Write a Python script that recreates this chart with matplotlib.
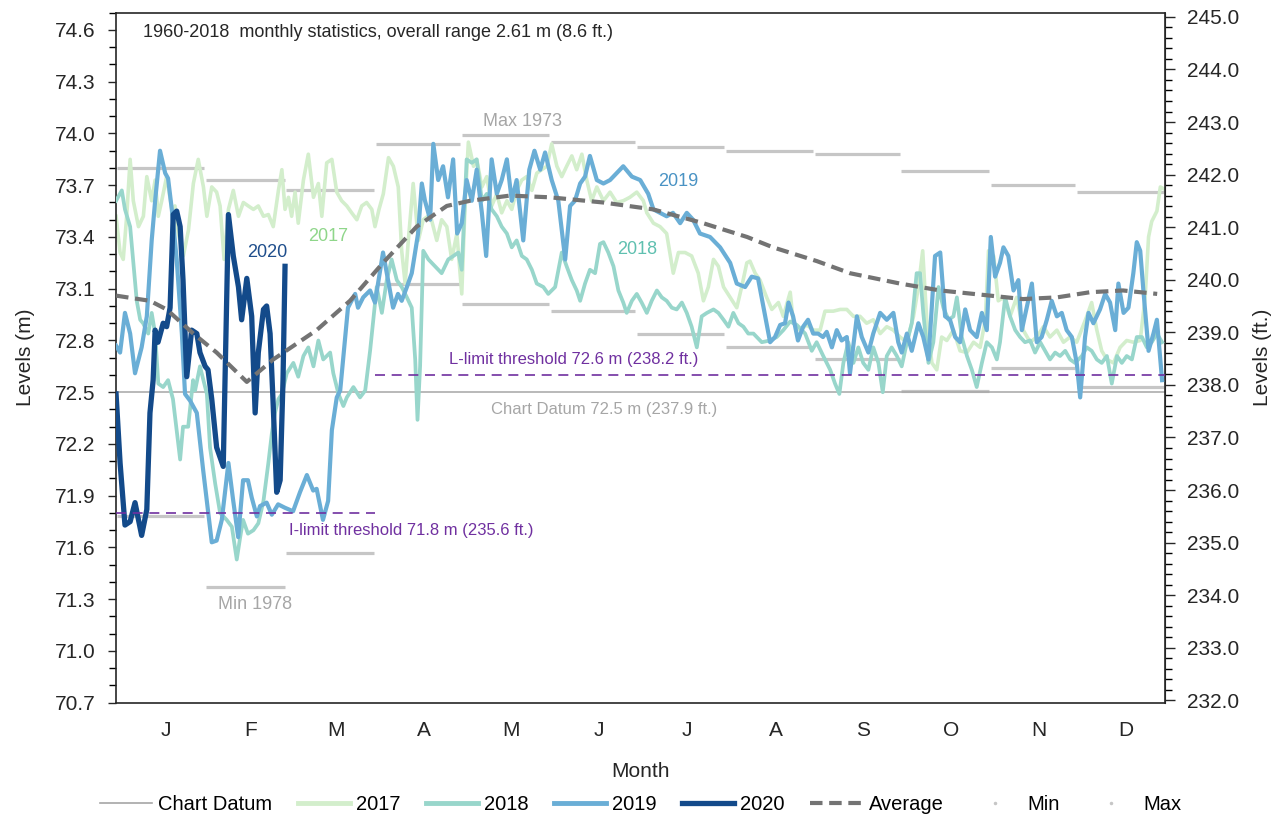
import matplotlib
matplotlib.use("Agg")
import matplotlib.pyplot as plt
from matplotlib.lines import Line2D
from matplotlib.ticker import FixedLocator, MultipleLocator, FormatStrFormatter
import numpy as np

plt.rcParams['font.family'] = ['Liberation Sans', 'DejaVu Sans']

# month layout (day of year) and labels
month_starts = [0, 31, 59, 90, 120, 151, 181, 212, 243, 273, 304, 334, 365]
month_labels = ["J", "F", "M", "A", "M", "J", "J", "A", "S", "O", "N", "D"]

# 1960-2018 monthly statistics (m)
month_max = [73.80, 73.73, 73.67, 73.94, 73.99, 73.95, 73.92, 73.90, 73.88, 73.78, 73.70, 73.66]
month_min = [71.78, 71.37, 71.57, 73.13, 73.01, 72.97, 72.84, 72.76, 72.69, 72.51, 72.64, 72.53]

chart_datum = 72.5
l_limit = 72.6
i_limit = 71.8

# right axis ticks (ft.)
ft_ticks = [232, 233, 234, 235, 236, 237, 238, 239, 240, 241, 242, 243, 244, 245]

# average level
avg_day = [0, 11.8, 17.6, 26.9, 35.0, 45.5, 54.7, 69.8, 81.4, 92.9,
           104.6, 115.1, 123.2, 137.1, 151.0, 169.5, 186.9, 204.3, 219.6, 228.6,
           243.9, 255.4, 272.8, 286.8, 304.2, 315.6, 327.5, 339.0, 350.4, 362.3]
avg_lvl = [73.06, 73.03, 72.98, 72.84, 72.73, 72.56, 72.69, 72.86, 73.03, 73.25,
           73.46, 73.58, 73.61, 73.64, 73.63, 73.60, 73.56, 73.48, 73.40, 73.34,
           73.26, 73.19, 73.13, 73.09, 73.06, 73.04, 73.05, 73.08, 73.09, 73.07]

# 2017 daily levels (sampled)
day_2017 = [0, 1.4, 2.5, 3.7, 4.9, 6.0, 7.8, 9.5, 10.7, 12.4,
            13.6, 14.7, 15.9, 17.6, 19.4, 20.5, 21.7, 23.4, 25.2, 26.9,
            28.6, 30.4, 31.6, 33.3, 35.0, 36.2, 37.6, 39.1, 40.8, 42.6,
            44.3, 46.0, 47.8, 49.5, 51.3, 53.0, 54.7, 56.5, 57.7, 58.8,
            60.0, 61.1, 62.3, 63.4, 65.2, 66.9, 68.7, 70.4, 71.6, 73.3,
            75.1, 76.8, 78.5, 80.3, 82.0, 83.8, 85.5, 87.2, 89.0, 90.1,
            91.5, 93.0, 94.8, 96.5, 98.2, 99.4, 100.6, 101.7, 103.4, 105.2,
            106.9, 109.3, 111.6, 113.3, 115.1, 116.8, 118.6, 120.3, 121.5, 122.6,
            124.4, 125.5, 127.3, 129.0, 130.7, 132.5, 134.2, 136.0, 137.7, 139.4,
            141.2, 142.9, 144.7, 146.4, 148.1, 149.9, 151.6, 153.4, 155.1, 156.8,
            158.6, 160.3, 162.1, 163.8, 165.5, 167.3, 169.6, 171.9, 174.2, 176.5,
            178.8, 181.2, 183.5, 184.7, 187.0, 189.3, 191.6, 193.9, 195.7, 198.0,
            200.3, 202.6, 204.4, 206.1, 207.9, 209.6, 211.4, 213.7, 216.0, 217.7,
            219.5, 220.6, 222.4, 224.1, 226.4, 228.2, 230.5, 232.2, 234.6, 235.7,
            238.0, 240.4, 242.7, 245.0, 246.7, 249.6, 252.0, 254.3, 256.6, 258.9,
            261.2, 263.5, 265.9, 268.2, 270.5, 272.8, 275.2, 277.5, 279.2, 280.7,
            282.1, 283.9, 285.6, 287.3, 289.1, 291.4, 293.7, 296.1, 298.4, 300.7,
            302.5, 303.6, 305.4, 307.0, 308.8, 311.1, 313.4, 315.7, 318.1, 320.4,
            322.7, 325.0, 327.4, 329.7, 332.0, 334.3, 337.8, 339.5, 341.3, 343.0,
            344.8, 347.1, 349.4, 351.7, 354.0, 356.4, 358.1, 359.3, 360.4, 362.2,
            363.4, 364.5]
lvl_2017 = [73.52, 73.31, 73.27, 73.52, 73.85, 73.61, 73.46, 73.52, 73.75, 73.61,
            73.73, 73.52, 73.61, 73.75, 73.56, 73.58, 73.42, 73.29, 73.44, 73.71,
            73.85, 73.69, 73.52, 73.69, 73.66, 73.58, 73.27, 73.56, 73.67, 73.52,
            73.60, 73.58, 73.56, 73.58, 73.52, 73.53, 73.46, 73.67, 73.79, 73.56,
            73.63, 73.52, 73.66, 73.48, 73.73, 73.88, 73.63, 73.71, 73.52, 73.83,
            73.85, 73.66, 73.61, 73.58, 73.54, 73.50, 73.58, 73.60, 73.56, 73.46,
            73.56, 73.65, 73.86, 73.81, 73.69, 73.32, 73.13, 73.38, 73.71, 73.38,
            73.50, 73.53, 73.38, 73.50, 73.46, 73.27, 73.42, 73.07, 73.61, 73.95,
            73.81, 73.85, 73.69, 73.75, 73.58, 73.65, 73.54, 73.61, 73.56, 73.67,
            73.73, 73.75, 73.67, 73.77, 73.79, 73.81, 73.94, 73.81, 73.75, 73.81,
            73.87, 73.79, 73.88, 73.73, 73.61, 73.69, 73.61, 73.66, 73.60, 73.61,
            73.63, 73.66, 73.61, 73.54, 73.48, 73.46, 73.42, 73.19, 73.31, 73.31,
            73.29, 73.19, 73.03, 73.11, 73.27, 73.23, 73.11, 73.05, 72.99, 73.11,
            73.25, 73.26, 73.19, 73.15, 73.05, 72.98, 73.02, 72.94, 73.08, 72.90,
            72.86, 72.89, 72.86, 72.86, 72.97, 72.97, 72.98, 72.98, 72.94, 72.94,
            72.90, 72.92, 72.84, 72.88, 72.86, 72.82, 72.79, 72.94, 73.11, 73.32,
            72.92, 72.67, 72.63, 72.82, 72.80, 72.86, 72.74, 72.73, 72.79, 72.76,
            72.92, 73.32, 73.29, 73.03, 73.05, 72.94, 73.05, 72.86, 72.79, 72.82,
            72.88, 72.82, 72.86, 72.79, 72.82, 72.79, 72.94, 73.02, 72.86, 72.74,
            72.69, 72.67, 72.76, 72.80, 72.79, 72.80, 73.05, 73.40, 73.49, 73.55,
            73.69, 73.68]

# 2018
day_2018 = [0, 2.0, 3.1, 4.9, 5.9, 7.2, 8.4, 9.4, 11.2, 12.4,
            13.6, 14.7, 16.4, 18.1, 19.8, 22.3, 23.3, 25.1, 26.8, 27.5,
            29.2, 31.6, 32.7, 34.5, 36.2, 38.5, 40.3, 42.0, 43.2, 44.2,
            45.9, 47.8, 49.5, 51.3, 53.0, 54.2, 55.3, 56.5, 57.7, 59.4,
            61.7, 63.4, 65.2, 66.9, 68.7, 70.4, 72.1, 74.5, 75.6, 77.4,
            79.1, 80.3, 82.6, 84.9, 86.7, 88.4, 90.7, 92.5, 94.2, 95.9,
            97.7, 99.4, 101.2, 102.9, 104.1, 104.9, 105.8, 106.9, 108.7, 111.0,
            113.3, 115.6, 117.4, 119.1, 120.3, 122.0, 123.8, 125.5, 127.3, 129.0,
            130.7, 132.5, 134.2, 136.0, 137.7, 139.4, 141.2, 142.9, 144.7, 146.4,
            148.7, 150.4, 152.8, 155.1, 156.8, 158.6, 160.3, 161.5, 163.2, 164.9,
            166.7, 168.4, 169.6, 171.3, 173.1, 174.8, 176.5, 177.7, 179.5, 181.2,
            182.9, 184.7, 186.4, 188.2, 189.9, 191.6, 193.4, 195.1, 196.9, 198.6,
            200.3, 202.1, 203.8, 205.6, 207.9, 209.6, 211.4, 213.1, 214.8, 216.6,
            218.3, 220.0, 221.8, 224.7, 227.6, 229.9, 232.2, 234.6, 236.9, 239.8,
            242.1, 243.8, 246.1, 248.5, 250.2, 251.7, 253.1, 254.8, 256.6, 258.3,
            260.0, 261.8, 263.5, 265.3, 266.8, 268.2, 269.9, 271.7, 273.4, 275.2,
            276.9, 278.6, 279.8, 280.9, 282.7, 284.4, 286.2, 287.9, 289.7, 291.4,
            292.6, 294.3, 296.1, 297.8, 299.5, 301.3, 303.0, 304.8, 306.5, 307.6,
            309.4, 311.1, 312.9, 314.6, 316.3, 318.1, 319.8, 321.6, 323.3, 325.0,
            326.8, 328.5, 330.3, 332.0, 333.7, 336.1, 337.8, 339.5, 341.3, 343.0,
            344.8, 346.5, 348.3, 350.0, 351.7, 353.5, 355.2, 357.0, 358.7, 360.4,
            362.2, 364.0]
lvl_2018 = [73.61, 73.67, 73.56, 73.46, 73.27, 73.03, 72.92, 72.90, 72.84, 72.96,
            72.84, 72.55, 72.53, 72.57, 72.46, 72.11, 72.30, 72.30, 72.57, 72.51,
            72.65, 72.49, 72.18, 71.97, 71.80, 71.76, 71.72, 71.53, 71.66, 71.76,
            71.68, 71.70, 71.74, 71.87, 72.09, 72.26, 72.38, 72.46, 72.49, 72.61,
            72.67, 72.59, 72.71, 72.76, 72.65, 72.80, 72.69, 72.73, 72.61, 72.49,
            72.42, 72.47, 72.53, 72.47, 72.51, 72.74, 73.11, 72.96, 73.15, 73.27,
            73.15, 73.11, 73.05, 72.99, 72.69, 72.34, 72.65, 73.32, 73.27, 73.23,
            73.19, 73.27, 73.29, 73.31, 73.21, 73.85, 73.83, 73.85, 73.61, 73.65,
            73.56, 73.52, 73.46, 73.42, 73.34, 73.38, 73.29, 73.27, 73.21, 73.13,
            73.11, 73.07, 73.11, 73.31, 73.23, 73.15, 73.09, 73.03, 73.13, 73.21,
            73.19, 73.36, 73.37, 73.31, 73.23, 73.09, 73.02, 72.96, 73.03, 73.07,
            73.02, 72.96, 73.03, 73.09, 73.05, 73.03, 72.99, 72.98, 73.02, 72.96,
            72.88, 72.76, 72.94, 72.96, 72.98, 72.96, 72.92, 72.88, 72.96, 72.90,
            72.88, 72.84, 72.84, 72.79, 72.80, 72.82, 72.86, 72.91, 72.89, 72.84,
            72.74, 72.79, 72.71, 72.63, 72.55, 72.49, 72.67, 72.79, 72.67, 72.76,
            72.67, 72.63, 72.76, 72.67, 72.50, 72.71, 72.76, 72.71, 72.65, 72.79,
            72.90, 73.19, 73.19, 72.96, 72.67, 72.79, 73.11, 72.99, 72.92, 72.94,
            73.05, 72.82, 72.71, 72.63, 72.53, 72.67, 72.79, 72.76, 72.69, 72.79,
            73.05, 72.94, 72.86, 72.82, 72.79, 72.80, 72.73, 72.79, 72.74, 72.69,
            72.73, 72.71, 72.74, 72.69, 72.67, 72.71, 72.76, 72.74, 72.69, 72.67,
            72.71, 72.55, 72.71, 72.67, 72.71, 72.69, 72.82, 72.82, 72.76, 72.79,
            72.84, 72.79]

# 2019
day_2019 = [0, 1.4, 3.1, 4.9, 6.6, 8.9, 10.7, 12.4, 13.6, 15.3,
            17.1, 18.1, 19.4, 21.1, 22.9, 24.0, 25.8, 28.1, 30.3, 33.3,
            35.0, 36.8, 39.1, 40.7, 42.5, 44.2, 45.9, 47.2, 49.0, 50.1,
            52.4, 54.2, 56.4, 58.8, 61.6, 64.0, 66.4, 68.6, 69.8, 72.0,
            73.8, 75.1, 76.8, 78.0, 80.7, 83.2, 84.2, 86.0, 88.4, 90.1,
            92.9, 94.2, 96.4, 98.1, 99.4, 101.2, 102.9, 105.1, 106.4, 107.5,
            109.3, 110.4, 112.1, 113.8, 115.5, 117.3, 118.7, 120.3, 122.0, 123.8,
            125.5, 127.3, 128.8, 130.7, 132.5, 134.2, 136.0, 137.7, 139.4, 141.7,
            143.8, 145.6, 147.6, 149.3, 151.6, 153.9, 156.3, 158.0, 159.7, 161.5,
            163.2, 164.9, 167.3, 169.6, 171.9, 174.2, 176.5, 179.5, 182.4, 185.2,
            187.0, 189.3, 191.6, 193.8, 196.3, 198.6, 200.8, 203.2, 206.7, 210.2,
            213.7, 216.0, 218.9, 221.2, 223.4, 225.9, 227.6, 229.3, 231.1, 232.8,
            234.0, 235.6, 237.3, 239.1, 240.8, 242.6, 244.3, 246.0, 247.3, 249.1,
            250.8, 252.5, 254.3, 255.4, 257.8, 259.5, 261.8, 263.5, 265.9, 268.2,
            270.5, 272.2, 273.4, 275.2, 276.9, 279.2, 280.9, 282.7, 285.0, 286.8,
            288.5, 290.2, 292.0, 293.7, 295.5, 297.2, 299.5, 301.3, 303.0, 304.4,
            305.9, 307.6, 308.8, 310.5, 312.3, 314.0, 315.2, 316.9, 318.7, 320.4,
            322.1, 323.9, 325.6, 327.4, 329.1, 330.8, 332.6, 334.3, 335.5, 337.2,
            338.4, 340.1, 342.4, 344.2, 345.9, 347.7, 348.8, 350.6, 352.3, 354.0,
            355.2, 356.4, 357.5, 359.3, 361.0, 362.2, 364.0]
lvl_2019 = [72.77, 72.73, 72.96, 72.84, 72.61, 72.76, 72.94, 73.38, 73.61, 73.90,
            73.77, 73.74, 73.56, 73.27, 72.84, 72.49, 72.45, 72.38, 72.05, 71.63,
            71.64, 71.76, 72.09, 71.88, 71.66, 71.99, 71.99, 71.89, 71.78, 71.84,
            71.86, 71.79, 71.85, 71.83, 71.81, 71.92, 72.02, 71.93, 71.94, 71.76,
            71.87, 72.28, 72.47, 72.51, 72.99, 73.07, 72.99, 73.05, 73.09, 73.02,
            73.31, 73.19, 72.99, 73.07, 73.03, 73.11, 73.19, 73.42, 73.71, 73.61,
            73.50, 73.94, 73.73, 73.81, 73.63, 73.85, 73.42, 73.48, 73.73, 73.61,
            73.79, 73.54, 73.29, 73.85, 73.65, 73.73, 73.85, 73.61, 73.73, 73.38,
            73.79, 73.90, 73.79, 73.89, 73.73, 73.61, 73.27, 73.58, 73.61, 73.71,
            73.75, 73.87, 73.73, 73.71, 73.73, 73.77, 73.81, 73.75, 73.73, 73.65,
            73.56, 73.54, 73.52, 73.54, 73.48, 73.54, 73.50, 73.42, 73.40, 73.34,
            73.25, 73.13, 73.11, 73.17, 73.16, 72.94, 72.79, 72.82, 72.89, 72.90,
            73.02, 72.94, 72.80, 72.88, 72.92, 72.84, 72.84, 72.82, 72.85, 72.76,
            72.86, 72.80, 72.82, 72.61, 72.94, 72.82, 72.73, 72.84, 72.96, 72.92,
            72.96, 72.79, 72.73, 72.84, 72.74, 72.90, 72.82, 72.69, 73.29, 73.31,
            72.94, 72.92, 72.82, 72.79, 72.98, 72.86, 72.82, 72.96, 72.86, 73.40,
            73.17, 73.25, 73.34, 73.29, 73.09, 73.15, 72.86, 72.99, 73.13, 72.79,
            72.82, 72.92, 73.03, 72.94, 72.96, 72.86, 72.82, 72.67, 72.47, 72.82,
            72.96, 72.90, 72.98, 73.07, 73.02, 72.86, 73.13, 72.96, 72.99, 73.19,
            73.37, 73.32, 73.09, 72.74, 72.84, 72.92, 72.57]

# 2020 (to date)
day_2020 = [0, 1.4, 3.1, 4.9, 6.6, 8.9, 10.7, 11.8, 12.9, 13.6,
            14.6, 16.4, 17.6, 18.8, 19.9, 21.1, 22.3, 23.3, 24.6, 26.3,
            28.1, 29.2, 31.0, 32.0, 33.3, 35.0, 37.3, 39.1, 40.8, 42.6,
            43.7, 45.5, 47.2, 48.4, 49.5, 51.3, 52.4, 53.6, 54.6, 55.9,
            57.1, 58.1, 58.8]
lvl_2020 = [72.49, 72.09, 71.73, 71.75, 71.86, 71.67, 71.82, 72.38, 72.57, 72.86,
            72.79, 72.90, 72.88, 72.99, 73.53, 73.55, 73.46, 73.15, 72.59, 72.86,
            72.84, 72.73, 72.65, 72.63, 72.46, 72.18, 72.07, 73.53, 73.29, 73.11,
            72.92, 73.16, 72.94, 72.38, 72.73, 72.98, 73.00, 72.84, 72.46, 71.92,
            71.99, 72.57, 73.23]

c2017 = "#d3eecc"
c2018 = "#98d6cb"
c2019 = "#6aaed6"
c2020 = "#134a8a"
c_avg = "#737373"
c_stat = "#c6c6c6"
c_purple = "#7030a0"
c_gray_txt = "#a6a6a6"

fig = plt.figure(figsize=(12.81, 8.22), dpi=100)
ax = fig.add_axes([0.0906, 0.1451, 0.8188, 0.8394])

# monthly max / min bars
for i in range(12):
    ax.hlines(month_max[i], month_starts[i] + 0.3, month_starts[i + 1] - 0.3,
              color=c_stat, lw=2.3, zorder=1)
    ax.hlines(month_min[i], month_starts[i] + 0.3, month_starts[i + 1] - 0.3,
              color=c_stat, lw=2.3, zorder=1)

ax.axhline(chart_datum, color="#a6a6a6", lw=1.1, zorder=1.5)
ax.hlines(l_limit, month_starts[3], 365, color=c_purple, lw=1.2,
          linestyles=(0, (6, 4)), zorder=6)
ax.hlines(i_limit, 0, month_starts[3], color=c_purple, lw=1.2,
          linestyles=(0, (6, 4)), zorder=6)

ax.plot(day_2017, lvl_2017, color=c2017, lw=2.6, zorder=2)
ax.plot(day_2018, lvl_2018, color=c2018, lw=2.7, zorder=3)
ax.plot(day_2019, lvl_2019, color=c2019, lw=3.0, zorder=4)
ax.plot(day_2020, lvl_2020, color=c2020, lw=3.8, zorder=5)
ax.plot(avg_day, avg_lvl, color=c_avg, lw=3.0, ls=(0, (3, 1.6)), zorder=7)

ax.set_xlim(0, 365)
ax.set_ylim(70.7, 74.7)

# axes ticks
ax.yaxis.set_major_locator(FixedLocator(np.round(np.arange(70.7, 74.65, 0.3), 1)))
ax.yaxis.set_minor_locator(MultipleLocator(0.1))
ax.yaxis.set_major_formatter(FormatStrFormatter("%.1f"))
ax.tick_params(axis="y", which="major", direction="out", length=6, width=1,
               labelsize=15, pad=9, colors="#262626")
ax.tick_params(axis="y", which="minor", direction="out", length=5, width=1)

mids = [(month_starts[i] + month_starts[i + 1]) / 2 + 2 for i in range(12)]
ax.set_xticks(mids)
ax.set_xticklabels(month_labels)
ax.tick_params(axis="x", length=0, pad=13, labelsize=15, colors="#262626")

for s in ax.spines.values():
    s.set_color("#262626")
    s.set_linewidth(1.2)

ax.set_xlabel("Month", fontsize=15, labelpad=16, color="#262626")
ax.set_ylabel("Levels (m)", fontsize=15, labelpad=14, color="#262626")

sec = ax.secondary_yaxis("right", functions=(lambda m: m * 3.28084, lambda f: f / 3.28084))
sec.yaxis.set_major_locator(FixedLocator(ft_ticks))
sec.yaxis.set_minor_locator(FixedLocator(np.round(np.arange(232.0, 245.01, 0.2), 1)))
sec.yaxis.set_major_formatter(FormatStrFormatter("%.1f"))
sec.tick_params(axis="y", which="major", direction="out", length=7, width=1,
                labelsize=15, pad=9, colors="#262626")
sec.tick_params(axis="y", which="minor", direction="out", length=5, width=1)
sec.spines["right"].set_color("#262626")
sec.set_ylabel("Levels (ft.)", fontsize=15, labelpad=10, color="#262626")

# annotations
ax.text(0.026, 0.972, "1960-2018  monthly statistics, overall range 2.61 m (8.6 ft.)",
        transform=ax.transAxes, fontsize=13, va="center", ha="left", color="#262626")
ax.text(141.3, 74.07, "Max 1973", fontsize=13, ha="center", va="center", color=c_gray_txt)
ax.text(48.4, 71.27, "Min 1978", fontsize=13, ha="center", va="center", color=c_gray_txt)
ax.text(159.4, 72.69, "L-limit threshold 72.6 m (238.2 ft.)", fontsize=12,
        ha="center", va="center", color=c_purple)
ax.text(169.8, 72.40, "Chart Datum 72.5 m (237.9 ft.)", fontsize=12,
        ha="center", va="center", color=c_gray_txt)
ax.text(102.7, 71.70, "I-limit threshold 71.8 m (235.6 ft.)", fontsize=12,
        ha="center", va="center", color=c_purple)
ax.text(52.5, 73.31, "2020", fontsize=13, ha="center", va="center", color="#1f4e8c", zorder=8)
ax.text(73.8, 73.40, "2017", fontsize=13, ha="center", va="center", color="#8fd68a", zorder=8)
ax.text(181.3, 73.33, "2018", fontsize=13, ha="center", va="center", color="#5fc0b0", zorder=8)
ax.text(195.6, 73.72, "2019", fontsize=13, ha="center", va="center", color="#4a93c4", zorder=8)

handles = [
    Line2D([], [], color="#a6a6a6", lw=1.2),
    Line2D([], [], color=c2017, lw=3.5),
    Line2D([], [], color=c2018, lw=3.5),
    Line2D([], [], color=c2019, lw=3.5),
    Line2D([], [], color=c2020, lw=3.8),
    Line2D([], [], color=c_avg, lw=3.0, ls=(0, (3, 1.6))),
    Line2D([], [], color=c_stat, marker=".", ms=3, ls="none"),
    Line2D([], [], color=c_stat, marker=".", ms=3, ls="none"),
]
labels = ["Chart Datum", "2017", "2018", "2019", "2020", "Average", "Min", "Max"]
fig.legend(handles, labels, loc="center", bbox_to_anchor=(0.5, 0.021), ncol=8,
           frameon=False, fontsize=14.5, handlelength=2.6, handletextpad=0.3,
           columnspacing=1.25)

fig.savefig("out.png", dpi=100)
